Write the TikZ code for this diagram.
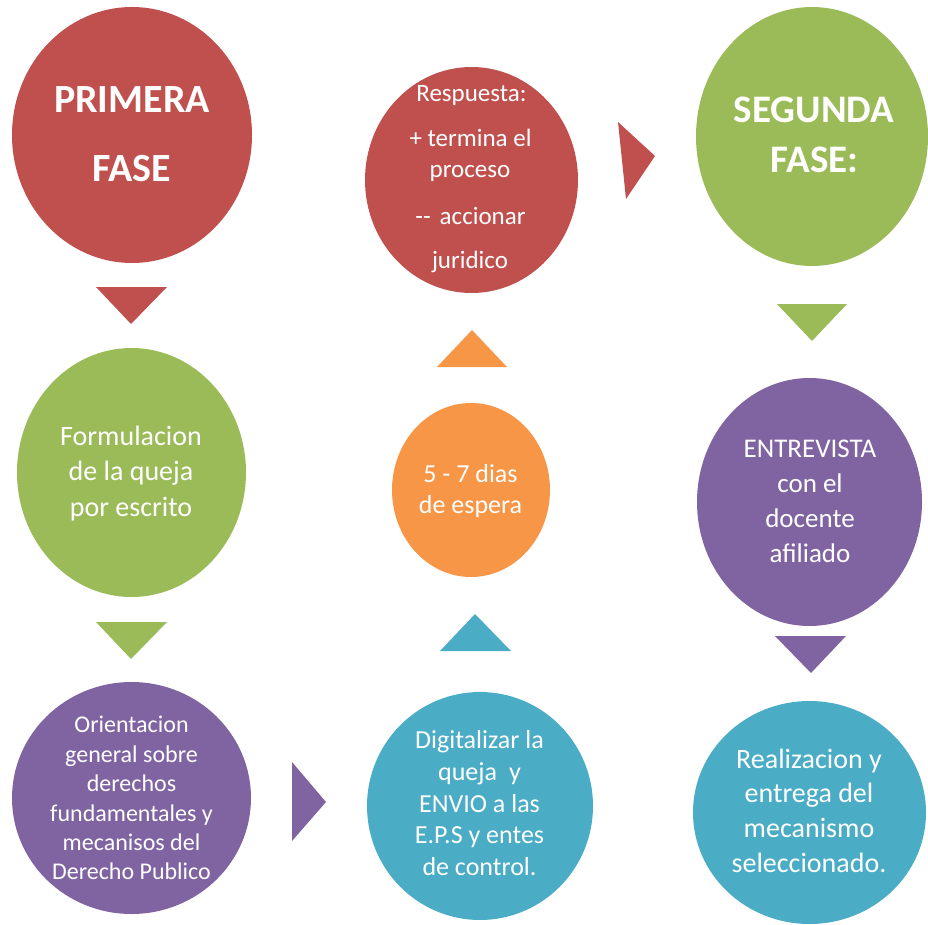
\documentclass[tikz,border=0pt]{standalone}
\usepackage{fontspec}
\setmainfont{Carlito}
\usetikzlibrary{shapes.geometric}
\definecolor{cred}{HTML}{C0504D}
\definecolor{cgreen}{HTML}{9BBB59}
\definecolor{cpurple}{HTML}{8064A2}
\definecolor{cblue}{HTML}{4BACC6}
\definecolor{corange}{HTML}{F79646}
\tikzset{
  blob/.style={ellipse, inner sep=0pt, draw=none, fill=#1},
  txt/.style={text=white, inner sep=0pt, anchor=base},
  fs/.style={font=\fontsize{#1}{#1}\selectfont},
  fsb/.style={font=\fontsize{#1}{#1}\selectfont\bfseries},
}
\begin{document}
\begin{tikzpicture}[x=1pt,y=-1pt]
\useasboundingbox (0,0) rectangle (928,925);
% circles
\node[blob=cred, minimum width=240pt, minimum height=256pt] (c1) at (132,135) {};
\node[blob=cred, minimum width=213pt, minimum height=226pt] (c2) at (471.5,180) {};
\node[blob=cgreen, minimum width=232pt, minimum height=259pt] (c3) at (812,136.5) {};
\node[blob=cgreen, minimum width=229pt, minimum height=249pt] (c4) at (131.5,472.5) {};
\node[blob=corange, minimum width=158pt, minimum height=174pt] (c5) at (471,490) {};
\node[blob=cpurple, minimum width=225pt, minimum height=248pt] (c6) at (809.5,502) {};
\node[blob=cpurple, minimum width=239pt, minimum height=232pt] (c7) at (131.5,798) {};
\node[blob=cblue, minimum width=226pt, minimum height=228pt] (c8) at (480,806) {};
\node[blob=cblue, minimum width=233pt, minimum height=223pt] (c9) at (809.5,812.5) {};
% triangles
\fill[cred] (96,287) -- (167,287) -- (131,324) -- cycle;
\fill[cgreen] (96,622) -- (167,622) -- (131,659) -- cycle;
\fill[cpurple] (292,762) -- (292,841) -- (326,802) -- cycle;
\fill[cblue] (440,651) -- (511,651) -- (475,614) -- cycle;
\fill[corange] (437,367) -- (507,367) -- (472,330) -- cycle;
\fill[cred] (618,122) -- (626,199) -- (655,156) -- cycle;
\fill[cgreen] (777,304) -- (847,304) -- (812,341) -- cycle;
\fill[cpurple] (775,636) -- (846,636) -- (811,673) -- cycle;
% texts
\node[txt, fsb=40] (t1a) at (132,113) {PRIMERA};
\node[txt, fsb=40] (t1b) at (132,182) {FASE};
\node[txt, fs=25] (t2a) at (471.5,102) {Respuesta:};
\node[txt, fs=25] (t2b) at (470.5,147) {+ termina el};
\node[txt, fs=25] (t2c) at (470,178) {proceso};
\node[txt, fs=25] (t2d) at (470.5,225) {-{}-\hspace{9pt}accionar};
\node[txt, fs=25] (t2e) at (470,268) {juridico};
\node[txt, fsb=39] (t3a) at (814,123) {SEGUNDA};
\node[txt, fsb=39] (t3b) at (814.5,173) {FASE:};
\node[txt, fs=28] (t4a) at (131,445) {Formulacion};
\node[txt, fs=28] (t4b) at (131,480) {de la queja};
\node[txt, fs=28] (t4c) at (131,516) {por escrito};
\node[txt, fs=26] (t5a) at (470.5,482) {5 - 7 dias};
\node[txt, fs=26] (t5b) at (470.5,513) {de espera};
\node[txt, fs=27] (t6a) at (810,457) {ENTREVISTA};
\node[txt, fs=27] (t6b) at (810,492) {con el};
\node[txt, fs=27] (t6c) at (810,527) {docente};
\node[txt, fs=27] (t6d) at (810,562) {afiliado};
\node[txt, fs=24] (t7a) at (131.5,732) {Orientacion};
\node[txt, fs=24] (t7b) at (131.5,762) {general sobre};
\node[txt, fs=24] (t7c) at (131.5,791) {derechos};
\node[txt, fs=24] (t7d) at (131.5,821) {fundamentales y};
\node[txt, fs=24] (t7e) at (131.5,850) {mecanisos del};
\node[txt, fs=24] (t7f) at (131.5,879) {Derecho Publico};
\node[txt, fs=26] (t8a) at (479.5,748) {Digitalizar la};
\node[txt, fs=26] (t8b) at (479.5,780) {queja\hspace{12pt}y};
\node[txt, fs=26] (t8c) at (479.5,812) {ENVIO a las};
\node[txt, fs=26] (t8d) at (479.5,843) {E.P.S y entes};
\node[txt, fs=26] (t8e) at (479.5,875) {de control.};
\node[txt, fs=28] (t9a) at (809,768) {Realizacion y};
\node[txt, fs=28] (t9b) at (809,802) {entrega del};
\node[txt, fs=28] (t9c) at (809,837) {mecanismo};
\node[txt, fs=28] (t9d) at (809,872) {seleccionado.};
\end{tikzpicture}
\end{document}
